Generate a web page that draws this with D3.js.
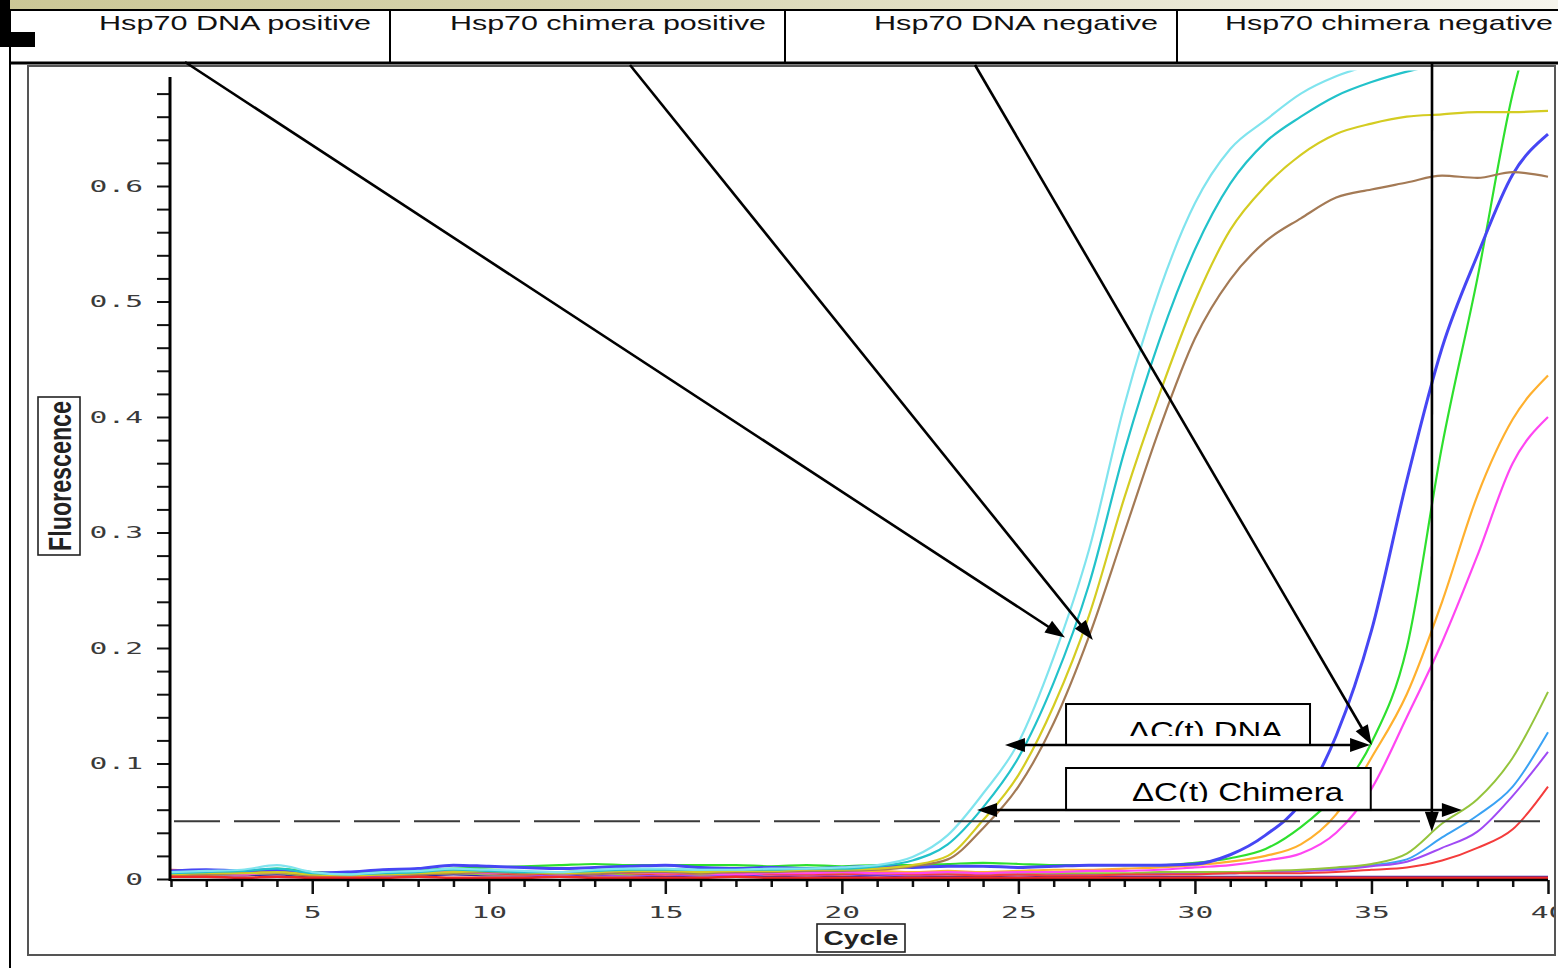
<!DOCTYPE html>
<html>
<head>
<meta charset="utf-8">
<script src="https://cdn.jsdelivr.net/npm/d3@7"></script>
<style>
  html, body { margin: 0; padding: 0; background: #fff; overflow: hidden; }
  svg { display: block; }
</style>
</head>
<body>
<svg id="chart" width="1558" height="968"></svg>
<script>
// ---- Amplification data: fluorescence per PCR cycle (cycles 1..40) ----
const cycles = d3.range(1, 41);
const yTickValues = d3.range(0, 35).map(i => i * 0.02);   // 0 .. 0.68
const xTickValues = cycles;
const headerLabels = ["Hsp70 DNA positive", "Hsp70 chimera positive", "Hsp70 DNA negative", "Hsp70 chimera negative"];
const threshold = 0.05;

// Positive samples (early amplification)
const posCyan = [0.006,0.007,0.008,0.012,0.006,0.004,0.006,0.007,0.009,0.008,
  0.007,0.006,0.008,0.009,0.009,0.008,0.008,0.009,0.009,0.010,
  0.012,0.019,0.038,0.074,0.118,0.192,0.285,0.410,0.510,0.585,
  0.632,0.657,0.680,0.695,0.705,0.712,0.718,0.722,0.726,0.730];
const posTeal = [0.005,0.006,0.007,0.009,0.005,0.004,0.005,0.006,0.008,0.007,
  0.006,0.006,0.007,0.008,0.008,0.008,0.008,0.008,0.009,0.009,
  0.011,0.016,0.030,0.062,0.105,0.170,0.255,0.370,0.467,0.545,
  0.602,0.638,0.660,0.678,0.690,0.699,0.706,0.712,0.716,0.720];
const posYellow = [0.004,0.005,0.005,0.006,0.004,0.003,0.004,0.005,0.006,0.007,
  0.006,0.005,0.006,0.007,0.007,0.006,0.007,0.007,0.008,0.008,
  0.009,0.012,0.020,0.051,0.090,0.150,0.228,0.330,0.420,0.500,
  0.562,0.600,0.627,0.645,0.654,0.660,0.662,0.664,0.664,0.665];
const posBrown = [0.005,0.004,0.005,0.006,0.003,0.003,0.004,0.004,0.005,0.006,
  0.005,0.005,0.004,0.006,0.006,0.005,0.006,0.006,0.007,0.007,
  0.008,0.011,0.017,0.044,0.080,0.135,0.210,0.300,0.390,0.468,
  0.519,0.552,0.572,0.590,0.597,0.603,0.609,0.607,0.612,0.608];

// DNA negative samples
const dnaNegBlue = [0.007,0.008,0.007,0.008,0.005,0.006,0.008,0.009,0.012,0.011,
  0.010,0.009,0.010,0.011,0.012,0.010,0.009,0.010,0.009,0.010,
  0.011,0.010,0.011,0.011,0.010,0.011,0.012,0.012,0.012,0.013,
  0.021,0.038,0.066,0.124,0.215,0.345,0.460,0.540,0.610,0.645];
const dnaNegGreen = [0.006,0.007,0.006,0.009,0.006,0.005,0.007,0.008,0.009,0.010,
  0.011,0.012,0.013,0.012,0.012,0.012,0.012,0.011,0.012,0.011,
  0.012,0.012,0.013,0.014,0.013,0.012,0.012,0.012,0.012,0.014,
  0.018,0.026,0.045,0.073,0.118,0.200,0.375,0.520,0.680,0.780];
const dnaNegOrange = [0.005,0.004,0.006,0.007,0.003,0.002,0.005,0.006,0.008,0.006,
  0.005,0.006,0.007,0.006,0.005,0.006,0.007,0.006,0.006,0.007,
  0.007,0.006,0.007,0.006,0.007,0.008,0.008,0.009,0.010,0.012,
  0.015,0.020,0.030,0.056,0.105,0.160,0.240,0.332,0.398,0.436];
const dnaNegMagenta = [0.004,0.005,0.004,0.006,0.004,0.003,0.004,0.005,0.006,0.005,
  0.006,0.005,0.004,0.006,0.005,0.005,0.004,0.005,0.005,0.006,
  0.005,0.005,0.006,0.005,0.006,0.006,0.007,0.007,0.008,0.010,
  0.012,0.016,0.022,0.040,0.078,0.140,0.205,0.280,0.360,0.400];

// Chimera negative samples
const chiNegOlive = [0.003,0.004,0.004,0.005,0.003,0.003,0.004,0.004,0.005,0.004,
  0.004,0.005,0.005,0.004,0.005,0.004,0.005,0.005,0.004,0.005,
  0.005,0.004,0.005,0.005,0.004,0.005,0.005,0.005,0.006,0.006,
  0.006,0.007,0.008,0.010,0.013,0.022,0.048,0.069,0.105,0.162];
const chiNegSky = [0.006,0.005,0.006,0.008,0.004,0.003,0.005,0.006,0.008,0.007,
  0.006,0.005,0.006,0.007,0.006,0.006,0.005,0.006,0.005,0.006,
  0.005,0.006,0.005,0.005,0.004,0.005,0.004,0.004,0.005,0.005,
  0.005,0.006,0.007,0.009,0.012,0.017,0.036,0.055,0.080,0.127];
const chiNegPurple = [0.004,0.003,0.004,0.005,0.003,0.002,0.003,0.004,0.005,0.004,
  0.003,0.004,0.004,0.003,0.004,0.003,0.004,0.004,0.003,0.004,
  0.004,0.003,0.004,0.004,0.003,0.004,0.004,0.004,0.004,0.005,
  0.005,0.006,0.007,0.008,0.011,0.015,0.027,0.041,0.072,0.110];
const chiNegRed = [0.008,0.007,0.006,0.007,0.006,0.004,0.005,0.006,0.006,0.005,
  0.004,0.005,0.006,0.005,0.004,0.005,0.005,0.004,0.004,0.004,
  0.005,0.004,0.004,0.003,0.004,0.003,0.003,0.004,0.004,0.004,
  0.005,0.005,0.005,0.006,0.008,0.010,0.016,0.027,0.043,0.080];

// No-template controls
const ntcRed = [0.002,0.002,0.001,0.002,0.001,0.001,0.001,0.002,0.001,0.001,
  0.001,0.002,0.001,0.001,0.001,0.001,0.002,0.001,0.001,0.001,
  0.001,0.001,0.001,0.001,0.001,0.001,0.001,0.001,0.001,0.001,
  0.001,0.001,0.001,0.001,0.001,0.001,0.001,0.001,0.001,0.001];
const ntcNavy = [0.004,0.003,0.003,0.004,0.002,0.002,0.003,0.003,0.004,0.003,
  0.003,0.002,0.003,0.003,0.002,0.003,0.003,0.002,0.003,0.002,
  0.003,0.002,0.002,0.002,0.003,0.002,0.002,0.002,0.002,0.002,
  0.002,0.002,0.002,0.002,0.002,0.002,0.002,0.002,0.002,0.002];

const series = [
  { values: ntcNavy,       color: "#2a2ab0", width: 2 },
  { values: chiNegSky,     color: "#3aa2f4", width: 2 },
  { values: chiNegPurple,  color: "#a04af4", width: 2 },
  { values: chiNegOlive,   color: "#94c43c", width: 2 },
  { values: chiNegRed,     color: "#f43c3c", width: 2 },
  { values: dnaNegOrange,  color: "#ffb02e", width: 2.2 },
  { values: dnaNegMagenta, color: "#ff46f2", width: 2.2 },
  { values: dnaNegGreen,   color: "#2ee02e", width: 2.2 },
  { values: dnaNegBlue,    color: "#4646f4", width: 3 },
  { values: posBrown,      color: "#a47a55", width: 2.2 },
  { values: posYellow,     color: "#d4cc22", width: 2.2 },
  { values: posTeal,       color: "#22c2ca", width: 2.2 },
  { values: posCyan,       color: "#80e4ee", width: 2.2 },
  { values: ntcRed,        color: "#f02828", width: 2.5 }
];

// Annotation anchors in data units (cycle, fluorescence)
const pointerTips = [[26.32, 0.209], [27.11, 0.207], [35.01, 0.116], [36.71, 0.041]];
const pointerStarts = [[185, 62], [630, 65], [975, 65], [1432, 62]];
const deltaDNA = { from: 24.62, to: 34.96, level: 0.116, boxFrom: 26.35, boxTo: 33.26, boxTop: 0.1515,
                   label: "\u0394C(t) DNA", textStart: 1128, textLen: 155, clipBottom: 736, baseline: 740 };
const deltaChimera = { from: 23.83, to: 37.56, level: 0.0597, boxFrom: 26.35, boxTo: 34.98, boxTop: 0.0961,
                   label: "\u0394C(t) Chimera", textStart: 1132, textLen: 211, clipBottom: 802, baseline: 801 };

// ---- Layout ----
const svg = d3.select("#chart");
const W = 1558, H = 968;
const x = d3.scaleLinear().domain([1, 40]).range([171, 1548]);
const y = d3.scaleLinear().domain([0, 0.7]).range([879, 70.5]);
const SANS = "'Liberation Sans', Arial, sans-serif";
const MONO = "'DejaVu Sans Mono', monospace";

const defs = svg.append("defs");
const grad = defs.append("linearGradient").attr("id", "band").attr("x1", 0).attr("x2", 1);
grad.append("stop").attr("offset", 0).attr("stop-color", "#cbc796");
grad.append("stop").attr("offset", 0.35).attr("stop-color", "#d6d3ad");
grad.append("stop").attr("offset", 1).attr("stop-color", "#f5f4ec");

defs.append("clipPath").attr("id", "frameClip")
  .append("rect").attr("x", 29).attr("y", 66).attr("width", 1525).attr("height", 888);
defs.append("clipPath").attr("id", "plotClip")
  .append("rect").attr("x", 171).attr("y", y(0.7)).attr("width", 1383).attr("height", 880 - y(0.7) + 6);

svg.append("rect").attr("width", W).attr("height", H).attr("fill", "#fff");

// Title band and header table
svg.append("rect").attr("x", 0).attr("y", 0).attr("width", W).attr("height", 10).attr("fill", "url(#band)");
svg.append("rect").attr("x", 0).attr("y", 0).attr("width", 10).attr("height", 47).attr("fill", "#000");
svg.append("rect").attr("x", 0).attr("y", 32).attr("width", 35).attr("height", 15).attr("fill", "#000");
svg.append("line").attr("x1", 10).attr("x2", 10).attr("y1", 10).attr("y2", H).attr("stroke", "#000").attr("stroke-width", 2);
svg.append("line").attr("x1", 10).attr("x2", W).attr("y1", 10).attr("y2", 10).attr("stroke", "#000").attr("stroke-width", 2);

// Plot frame
svg.append("rect").attr("x", 28).attr("y", 66).attr("width", 1527).attr("height", 889)
  .attr("fill", "#fff").attr("stroke", "#555").attr("stroke-width", 2);

const headerCells = [[99, 272], [450, 316], [874, 284], [1225, 328]];
const dividers = [390, 785, 1177];
svg.selectAll(".divider").data(dividers).join("line")
  .attr("x1", d => d).attr("x2", d => d).attr("y1", 10).attr("y2", 63)
  .attr("stroke", "#000").attr("stroke-width", 2);
svg.selectAll(".hdr").data(headerLabels).join("text")
  .attr("x", (d, i) => headerCells[i][0]).attr("y", 30)
  .attr("textLength", (d, i) => headerCells[i][1]).attr("lengthAdjust", "spacingAndGlyphs")
  .attr("font-family", SANS).attr("font-size", 21).attr("fill", "#111")
  .text(d => d);
svg.append("line").attr("x1", 10).attr("x2", W).attr("y1", 63).attr("y2", 63).attr("stroke", "#000").attr("stroke-width", 3);

const frame = svg.append("g").attr("clip-path", "url(#frameClip)");

// ---- Curves ----
const line = d3.line().x((d, i) => x(cycles[i])).y(d => y(d)).curve(d3.curveMonotoneX);
frame.append("g").attr("clip-path", "url(#plotClip)")
  .selectAll("path").data(series).join("path")
  .attr("d", d => line(d.values))
  .attr("fill", "none").attr("stroke", d => d.color).attr("stroke-width", d => d.width)
  .attr("stroke-linejoin", "round");

// Threshold
frame.append("line").attr("x1", x(1) + 3).attr("x2", x(40)).attr("y1", y(threshold)).attr("y2", y(threshold))
  .attr("stroke", "#3a3a3a").attr("stroke-width", 2).attr("stroke-dasharray", "46 14");

// ---- Axes ----
const fmtY = d => { const k = Math.round(d * 50); return k % 5 === 0 ? (k === 0 ? "0" : (k / 50).toFixed(1)) : ""; };
const yAxis = d3.axisLeft(y).tickValues(yTickValues).tickSize(13).tickFormat(fmtY);
const gy = frame.append("g").attr("transform", "translate(170,0)").call(yAxis);
gy.select(".domain").remove();
gy.selectAll(".tick line").attr("stroke", "#111").attr("stroke-width", 2);
const LBL_SX = 1.85;
gy.selectAll(".tick text")
  .attr("font-family", MONO).attr("font-size", 16).attr("fill", "#3a3a3a")
  .attr("x", -27 / LBL_SX).attr("transform", `scale(${LBL_SX},1)`);
frame.append("line").attr("x1", 170).attr("x2", 170).attr("y1", 77).attr("y2", 881)
  .attr("stroke", "#000").attr("stroke-width", 3);

const xAxis = d3.axisBottom(x).tickValues(xTickValues).tickSize(7).tickFormat(d => d % 5 === 0 ? d : "");
const gx = frame.append("g").attr("transform", "translate(0,880)").call(xAxis);
gx.select(".domain").remove();
gx.selectAll(".tick line").attr("stroke", "#111").attr("stroke-width", 2.5)
  .attr("y2", d => d % 5 === 0 ? 14 : 7);
gx.selectAll(".tick text")
  .attr("font-family", MONO).attr("font-size", 16).attr("fill", "#3a3a3a")
  .attr("y", 38).attr("dy", 0).attr("transform", `scale(${LBL_SX},1)`);
frame.append("line").attr("x1", 170).attr("x2", x(40)).attr("y1", 880).attr("y2", 880)
  .attr("stroke", "#000").attr("stroke-width", 2.5);

// Axis titles in boxes
svg.append("rect").attr("x", 38).attr("y", 397).attr("width", 42).attr("height", 158)
  .attr("fill", "#fff").attr("stroke", "#222").attr("stroke-width", 1.6);
svg.append("text").attr("transform", "translate(71,476) rotate(-90)")
  .attr("text-anchor", "middle").attr("textLength", 150).attr("lengthAdjust", "spacingAndGlyphs")
  .attr("font-family", SANS).attr("font-size", 31).attr("font-weight", "bold").attr("fill", "#222")
  .text("Fluorescence");
svg.append("rect").attr("x", 817).attr("y", 924).attr("width", 88).attr("height", 28)
  .attr("fill", "#fff").attr("stroke", "#222").attr("stroke-width", 1.6);
svg.append("text").attr("x", 861).attr("y", 945)
  .attr("text-anchor", "middle").attr("textLength", 75).attr("lengthAdjust", "spacingAndGlyphs")
  .attr("font-family", SANS).attr("font-size", 21).attr("font-weight", "bold").attr("fill", "#222")
  .text("Cycle");

// ---- Annotations ----
const ann = svg.append("g");
function arrowHead(g, from, to) {
  const dx = to[0] - from[0], dy = to[1] - from[1];
  const len = Math.hypot(dx, dy), ux = dx / len, uy = dy / len;
  const L = 20, Wd = 7;
  const bx = to[0] - ux * L, by = to[1] - uy * L;
  g.append("polygon")
    .attr("points", [[to[0], to[1]], [bx - uy * Wd, by + ux * Wd], [bx + uy * Wd, by - ux * Wd]].map(p => p.join(",")).join(" "))
    .attr("fill", "#000");
  return [bx + ux * 2, by + uy * 2];
}
function arrow(g, from, to, both) {
  let a = from, b = to;
  const endB = arrowHead(g, from, to);
  let endA = from;
  if (both) endA = arrowHead(g, to, from);
  g.append("line").attr("x1", endA[0]).attr("y1", endA[1]).attr("x2", endB[0]).attr("y2", endB[1])
    .attr("stroke", "#000").attr("stroke-width", 2.6);
}

[deltaDNA, deltaChimera].forEach((d, i) => {
  const bx0 = x(d.boxFrom), bx1 = x(d.boxTo), by0 = y(d.boxTop), by1 = y(d.level);
  ann.append("rect").attr("x", bx0).attr("y", by0).attr("width", bx1 - bx0).attr("height", by1 - by0)
    .attr("fill", "#fff").attr("stroke", "#000").attr("stroke-width", 2);
  const cid = "tclip" + i;
  defs.append("clipPath").attr("id", cid).append("rect")
    .attr("x", bx0).attr("y", by0).attr("width", bx1 - bx0).attr("height", d.clipBottom - by0);
  ann.append("text").attr("clip-path", `url(#${cid})`)
    .attr("x", d.textStart).attr("y", d.baseline)
    .attr("textLength", d.textLen).attr("lengthAdjust", "spacingAndGlyphs")
    .attr("font-family", SANS).attr("font-size", 25).attr("fill", "#000")
    .text(d.label);
  arrow(ann, [x(d.from), y(d.level)], [x(d.to), y(d.level)], true);
});

pointerTips.forEach((t, i) => {
  arrow(ann, pointerStarts[i], [x(t[0]), y(t[1])], false);
});
</script>
</body>
</html>
